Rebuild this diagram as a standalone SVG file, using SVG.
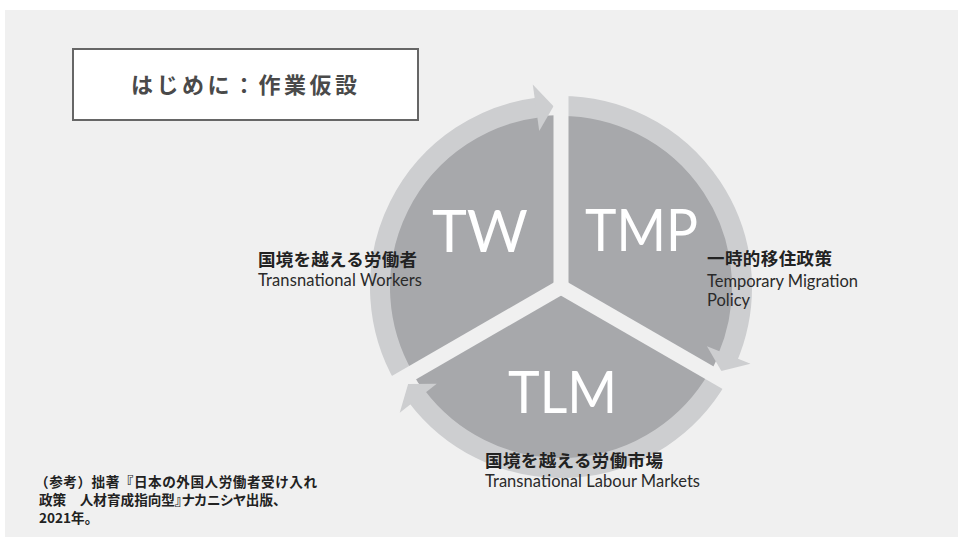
<svg xmlns="http://www.w3.org/2000/svg" xmlns:xlink="http://www.w3.org/1999/xlink" width="958" height="541" viewBox="0 0 958 541">
<style>
.big{font-family:Lato,"Open Sans","DejaVu Sans",sans-serif;font-size:58px;fill:#ffffff}
.jp{font-family:"Noto Sans CJK JP",sans-serif;font-weight:700;font-size:17.5px;fill:#222222}
.en{font-family:Lato,"Liberation Sans",sans-serif;font-size:16.5px;fill:#2a2a2a}
.note{font-family:"Noto Sans CJK JP",sans-serif;font-weight:700;font-size:13.6px;fill:#222222}
.palt{font-feature-settings:"palt"}
.title{font-family:"Noto Sans CJK JP",sans-serif;font-weight:700;font-size:22px;fill:#4a4a4a;letter-spacing:3.5px}
.ring{fill:none;stroke:#cdced0;stroke-width:20}
.head{fill:#cdced0}
.gap{stroke:#f0f0f0;stroke-width:15;fill:none}
</style>
<defs>
<g id="arrow">
<path class="ring" d="M404.25 377.5 A181 181 0 0 1 538.94 107.35"/>
<polygon class="head" points="532.76,84.46 553.5,106.15 539.25,131.01"/>
</g>
<line id="gapline" class="gap" x1="561" y1="287" x2="561" y2="70"/>
</defs>
<rect x="5" y="10" width="953" height="527" fill="#f0f0f0"/>
<g id="title">
<rect x="73" y="49" width="345" height="71" fill="#ffffff" stroke="#666666" stroke-width="2"/>
<text class="title" x="131" y="93">はじめに：作業仮設</text>
</g>
<g id="disk">
<circle cx="561" cy="287" r="172" fill="#a7a8ab"/>
</g>
<g id="connectors">
<use xlink:href="#arrow"/>
<use xlink:href="#arrow" transform="rotate(120 561 287)"/>
<use xlink:href="#arrow" transform="rotate(240 561 287)"/>
<use xlink:href="#gapline"/>
<use xlink:href="#gapline" transform="rotate(120 561 287)"/>
<use xlink:href="#gapline" transform="rotate(240 561 287)"/>
</g>
<g id="node-TW">
<text class="big" x="432" y="252" textLength="96" lengthAdjust="spacingAndGlyphs">TW</text>
<text class="jp" x="258" y="266" textLength="159">国境を越える労働者</text>
<text class="en" x="258" y="286" textLength="164">Transnational Workers</text>
</g>
<g id="node-TMP">
<text class="big" x="585" y="251" textLength="113" lengthAdjust="spacingAndGlyphs">TMP</text>
<text class="jp" x="707" y="265" textLength="125">一時的移住政策</text>
<text class="en" x="707" y="287" textLength="151">Temporary Migration</text>
<text class="en" x="707" y="306">Policy</text>
</g>
<g id="node-TLM">
<text class="big" x="508" y="413" textLength="109" lengthAdjust="spacingAndGlyphs">TLM</text>
<text class="jp" x="485" y="467" textLength="178">国境を越える労働市場</text>
<text class="en" x="485" y="487" textLength="215">Transnational Labour Markets</text>
</g>
<g id="note">
<text class="note" x="35" y="487" textLength="282">（参考）拙著『日本の外国人労働者受け入れ</text>
<text class="note palt" x="39" y="505">政策　人材育成指向型』ナカニシヤ出版、</text>
<text class="note" x="39" y="523">2021年。</text>
</g>
</svg>
